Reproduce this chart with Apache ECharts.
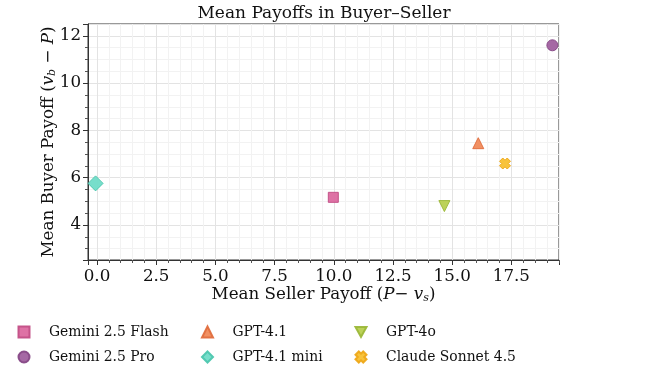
<!DOCTYPE html>
<html>
<head>
<meta charset="utf-8">
<script src="https://cdn.jsdelivr.net/npm/echarts@6/dist/echarts.min.js"></script>
<style>
html,body{margin:0;padding:0;background:#fff;}
#chart{width:648px;height:377px;}
</style>
</head>
<body>
<div id="chart"></div>
<script>
const models = ["Gemini 2.5 Flash", "Gemini 2.5 Pro", "GPT-4.1", "GPT-4.1 mini", "GPT-4o", "Claude Sonnet 4.5"];
const sellerPayoff = [9.98, 19.23, 16.10, -0.06, 14.67, 17.23];
const buyerPayoff = [5.17, 11.60, 7.46, 5.76, 4.80, 6.60];
const fillColors = ["#dc6aa0", "#a0609f", "#f08a5a", "#70dcc8", "#b8d050", "#f8c030"];
const edgeColors = ["#c24e86", "#864886", "#e06e3e", "#4cc6ae", "#9cb83a", "#eea818"];
const xMin = -0.38, xMax = 19.51, xStep = 2.5;
const yMin = 2.52, yMax = 12.5, yStep = 2;

const FONT = "DejaVu Serif";
const xPath = "path://M3,0 L5,2 L7,0 L10,3 L8,5 L10,7 L7,10 L5,8 L3,10 L0,7 L2,5 L0,3 Z";
const downTri = "path://M0,0 L10,0 L5,9 Z";
const symbols = ["rect", "circle", "triangle", "diamond", "triangle", xPath];
const legendIcons = ["rect", "circle", "triangle", "diamond", downTri, xPath];
const sizes = [10, 11, 11, 15, 11, 11];
const rotates = [0, 0, 0, 0, 180, 0];

const series = models.map((m, i) => ({
  name: m,
  type: "scatter",
  data: [[sellerPayoff[i], buyerPayoff[i]]],
  symbol: symbols[i],
  symbolSize: sizes[i],
  symbolRotate: rotates[i],
  itemStyle: { color: fillColors[i], borderColor: edgeColors[i], borderWidth: 1, opacity: 0.95 },
  z: 5
}));

const legendCommon = {
  orient: "vertical",
  top: 320,
  itemWidth: 11,
  itemHeight: 11,
  itemGap: 11,
  textStyle: { fontFamily: FONT, fontSize: 13.9, color: "#111", padding: [0, 0, 0, 14.5] }
};
const legendItem = i => ({ name: models[i], icon: legendIcons[i] });

const richName = {
  t: { fontFamily: FONT, fontSize: 16.7, color: "#111" },
  i: { fontFamily: FONT, fontSize: 16.7, fontStyle: "italic", color: "#111" },
  s: { fontFamily: FONT, fontSize: 11, fontStyle: "italic", color: "#111", padding: [7, 0, 0, 0] }
};

const chart = echarts.init(document.getElementById("chart"));
chart.setOption({
  animation: false,
  backgroundColor: "#fff",
  title: {
    text: "Mean Payoffs in Buyer\u2013Seller",
    left: "center",
    top: 0,
    textStyle: { fontFamily: FONT, fontSize: 17, fontWeight: "normal", color: "#111" }
  },
  legend: [
    Object.assign({}, legendCommon, { left: 12.5, data: [legendItem(0), legendItem(1)] }),
    Object.assign({}, legendCommon, { left: 196, data: [legendItem(2), legendItem(3)] }),
    Object.assign({}, legendCommon, { left: 349.5, data: [legendItem(4), legendItem(5)] })
  ],
  grid: { left: 88, right: 89, top: 24, bottom: 117, show: true, borderColor: "#333", borderWidth: 1, backgroundColor: "transparent" },
  xAxis: {
    type: "value",
    min: xMin, max: xMax, minInterval: xStep, maxInterval: xStep,
    name: "{t|Mean Seller Payoff (}{i|P}{t|\u2212 }{i|v}{s|s}{t|)}",
    nameLocation: "middle",
    nameGap: 26,
    nameMoveOverlap: false,
    nameTextStyle: { rich: richName },
    axisLine: { show: true, onZero: false, lineStyle: { color: "#333", width: 1 } },
    axisTick: { show: true, length: 5, lineStyle: { color: "#333" } },
    minorTick: { show: true, splitNumber: 5, length: 3, lineStyle: { color: "#555" } },
    axisLabel: {
      showMinLabel: false, showMaxLabel: false, margin: 8,
      fontFamily: FONT, fontSize: 16.7, color: "#111",
      formatter: v => v.toFixed(1)
    },
    splitLine: { show: true, lineStyle: { color: "#e3e3e3", width: 1 } },
    minorSplitLine: { show: true, lineStyle: { color: "#f2f2f2", width: 1 } }
  },
  yAxis: {
    type: "value",
    min: yMin, max: yMax, minInterval: yStep, maxInterval: yStep,
    name: "{t|Mean Buyer Payoff (}{i|v}{s|b}{t| \u2212 }{i|P}{t|)}",
    nameLocation: "middle",
    nameGap: 30,
    nameMoveOverlap: false,
    nameTextStyle: { rich: richName },
    axisLine: { show: true, onZero: false, lineStyle: { color: "#333", width: 1 } },
    axisTick: { show: true, length: 5, lineStyle: { color: "#333" } },
    minorTick: { show: true, splitNumber: 4, length: 3, lineStyle: { color: "#555" } },
    axisLabel: {
      showMinLabel: false, showMaxLabel: false, margin: 7,
      fontFamily: FONT, fontSize: 16.7, color: "#111",
      formatter: v => String(Math.round(v))
    },
    splitLine: { show: true, lineStyle: { color: "#e3e3e3", width: 1 } },
    minorSplitLine: { show: true, lineStyle: { color: "#f2f2f2", width: 1 } }
  },
  series: series
});
</script>
</body>
</html>
